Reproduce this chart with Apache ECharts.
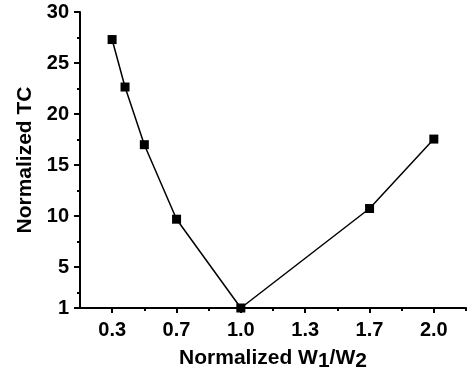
<!DOCTYPE html>
<html>
<head>
<meta charset="utf-8">
<script src="https://cdn.jsdelivr.net/npm/echarts@6/dist/echarts.min.js"></script>
<style>
  html, body { margin: 0; padding: 0; background: #fff; }
  #chart { width: 468px; height: 377px; }
</style>
</head>
<body>
<div id="chart"></div>
<script>
// Normalized TC vs normalized W1/W2
const xValues = [0.333, 0.4, 0.5, 0.667, 1.0, 1.667, 2.0];
const tcValues = [27.3, 22.65, 17.0, 9.7, 1.0, 10.75, 17.55];
const xTicks = [1 / 3, 2 / 3, 1, 4 / 3, 5 / 3, 2];
const xMinorTicks = [1 / 2, 5 / 6, 7 / 6, 3 / 2, 11 / 6, 13 / 6];
const yTicks = [1, 5, 10, 15, 20, 25, 30];
const yMinorTicks = [2.5, 7.5, 12.5, 17.5, 22.5, 27.5];

const font = 'Liberation Sans, Arial, sans-serif';
const chart = echarts.init(document.getElementById('chart'));

const lineStyle = { color: '#000', width: 2 };
const labelStyle = { color: '#000', fontSize: 20, fontWeight: 'bold', fontFamily: font };

chart.setOption({
  animation: false,
  grid: { left: 80, right: 2, top: 12, bottom: 66 },
  xAxis: [
    {
      type: 'value',
      min: 1 / 6,
      max: 13 / 6,
      axisLine: { lineStyle },
      axisTick: { customValues: xTicks, length: 5, lineStyle },
      axisLabel: Object.assign({ customValues: xTicks, margin: 12, formatter: v => v.toFixed(1) }, labelStyle),
      splitLine: { show: false },
      name: 'Normalized W{sub|1}/W{sub|2}',
      nameLocation: 'middle',
      nameGap: 37,
      nameTextStyle: {
        color: '#000', fontSize: 21, fontWeight: 'bold', fontFamily: font,
        rich: {
          sub: { fontSize: 21, fontWeight: 'bold', fontFamily: font, color: '#000', padding: [6, 0, 0, 0] }
        }
      }
    },
    {
      type: 'value',
      min: 1 / 6,
      max: 13 / 6,
      position: 'bottom',
      axisLine: { show: false },
      axisTick: { customValues: xMinorTicks, length: 3, lineStyle },
      axisLabel: { show: false },
      splitLine: { show: false }
    }
  ],
  yAxis: [
    {
      type: 'value',
      min: 1,
      max: 30,
      axisLine: { show: true, lineStyle },
      axisTick: { show: true, customValues: yTicks, length: 6, lineStyle },
      axisLabel: Object.assign({ customValues: yTicks, margin: 11 }, labelStyle),
      splitLine: { show: false },
      name: 'Normalized TC',
      nameLocation: 'middle',
      nameRotate: 90,
      nameGap: 41,
      nameTextStyle: { color: '#000', fontSize: 21, fontWeight: 'bold', fontFamily: font }
    },
    {
      type: 'value',
      min: 1,
      max: 30,
      position: 'left',
      axisLine: { show: false },
      axisTick: { show: true, customValues: yMinorTicks, length: 3, lineStyle },
      axisLabel: { show: false },
      splitLine: { show: false }
    }
  ],
  series: [
    {
      type: 'line',
      data: xValues.map((x, i) => [x, tcValues[i]]),
      symbol: 'rect',
      symbolSize: 9,
      itemStyle: { color: '#000' },
      lineStyle: { color: '#000', width: 1.5 },
      clip: false
    }
  ]
});
</script>
</body>
</html>
